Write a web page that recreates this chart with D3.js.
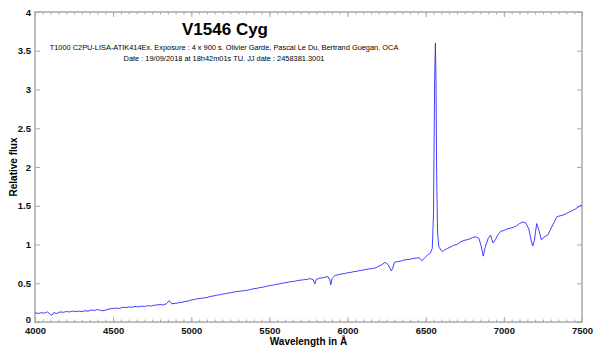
<!DOCTYPE html>
<html>
<head>
<meta charset="utf-8">
<script src="https://cdn.jsdelivr.net/npm/d3@7"></script>
<style>
  body { margin: 0; background: #fff; }
  svg text { font-family: "Liberation Sans", Arial, Helvetica, sans-serif; }
</style>
</head>
<body>
<svg id="container"></svg>
<script>
// spectrum (wavelength in A, relative flux)
const wavelength = [
  4000, 4020, 4040, 4060, 4080, 4100, 4110, 4120, 4140, 4160, 4180, 4200, 4220, 4240, 4260, 4280,
  4300, 4320, 4340, 4360, 4380, 4400, 4420, 4440, 4460, 4480, 4500, 4520, 4540, 4560, 4580, 4600,
  4620, 4640, 4660, 4680, 4700, 4720, 4740, 4760, 4780, 4800, 4820, 4840, 4860, 4875, 4900, 4920,
  4940, 4960, 4980, 5000, 5020, 5040, 5060, 5080, 5100, 5120, 5140, 5160, 5180, 5200, 5220, 5240,
  5260, 5280, 5300, 5320, 5340, 5360, 5380, 5400, 5420, 5440, 5460, 5480, 5500, 5520, 5540, 5560,
  5580, 5600, 5620, 5640, 5660, 5680, 5700, 5720, 5740, 5760, 5780, 5790, 5800, 5820, 5840, 5860,
  5875, 5885, 5893, 5900, 5920, 5940, 5960, 5980, 6000, 6020, 6040, 6060, 6080, 6100, 6120, 6140,
  6160, 6180, 6200, 6220, 6240, 6260, 6280, 6290, 6300, 6320, 6340, 6360, 6380, 6400, 6420, 6440,
  6460, 6475, 6490, 6510, 6530, 6542, 6550, 6557, 6562, 6566, 6570, 6576, 6584, 6600, 6610, 6620,
  6640, 6660, 6680, 6700, 6720, 6740, 6760, 6780, 6800, 6820, 6840, 6855, 6868, 6880, 6900, 6915,
  6930, 6945, 6960, 6980, 7000, 7020, 7040, 7060, 7080, 7100, 7120, 7140, 7160, 7175, 7185, 7195,
  7210, 7225, 7240, 7260, 7280, 7300, 7320, 7340, 7360, 7380, 7400, 7420, 7440, 7460, 7480, 7500
];
const flux = [
  0.12, 0.11, 0.12, 0.115, 0.13, 0.095, 0.09, 0.12, 0.11, 0.13, 0.125, 0.135, 0.13, 0.14, 0.135, 0.14,
  0.135, 0.145, 0.14, 0.155, 0.15, 0.16, 0.15, 0.145, 0.16, 0.17, 0.175, 0.18, 0.175, 0.19, 0.185, 0.195,
  0.19, 0.2, 0.195, 0.205, 0.2, 0.21, 0.205, 0.215, 0.22, 0.225, 0.22, 0.235, 0.275, 0.235, 0.24, 0.25,
  0.255, 0.265, 0.27, 0.285, 0.29, 0.3, 0.305, 0.31, 0.315, 0.33, 0.335, 0.345, 0.35, 0.36, 0.365, 0.375,
  0.38, 0.39, 0.395, 0.4, 0.405, 0.41, 0.42, 0.43, 0.435, 0.445, 0.45, 0.46, 0.47, 0.475, 0.485, 0.49,
  0.5, 0.505, 0.515, 0.52, 0.525, 0.535, 0.54, 0.545, 0.55, 0.56, 0.545, 0.49, 0.55, 0.565, 0.57, 0.58,
  0.585, 0.55, 0.48, 0.56, 0.6, 0.61, 0.62, 0.625, 0.635, 0.64, 0.65, 0.655, 0.665, 0.67, 0.68, 0.685,
  0.69, 0.7, 0.72, 0.74, 0.77, 0.74, 0.66, 0.7, 0.77, 0.78, 0.785, 0.8, 0.805, 0.81, 0.82, 0.825,
  0.83, 0.79, 0.82, 0.86, 0.89, 0.95, 1.4, 3.1, 3.6, 3.1, 1.9, 1.15, 0.97, 0.92, 0.91, 0.93,
  0.95, 0.97, 0.99, 1.0, 1.03, 1.05, 1.06, 1.07, 1.09, 1.1, 1.08, 0.98, 0.85, 0.96, 1.08, 1.12,
  1.02, 1.06, 1.12, 1.17, 1.18, 1.2, 1.21, 1.22, 1.24, 1.27, 1.29, 1.28, 1.2, 1.05, 0.98, 1.05,
  1.27, 1.18, 1.06, 1.1, 1.12, 1.2, 1.28, 1.36, 1.37, 1.38, 1.4, 1.42, 1.44, 1.46, 1.49, 1.51
];

const xTicks = [4000, 4500, 5000, 5500, 6000, 6500, 7000, 7500];
const yTicks = [0, 0.5, 1, 1.5, 2, 2.5, 3, 3.5, 4];
const yTickLabels = ["0", "0.5", "1", "1.5", "2", "2.5", "3", "3.5", "4"];

const title = "V1546 Cyg";
const subtitle = [
  "T1000 C2PU-LISA-ATIK414Ex. Exposure : 4 x 900 s. Olivier Garde, Pascal Le Du, Bertrand Guegan. OCA",
  "Date : 19/09/2018 at 18h42m01s TU. JJ date : 2458381.3001"
];

const W = 600, H = 354;
const margin = {top: 12, right: 18, bottom: 32, left: 35},
  w = W - margin.left - margin.right,
  h = H - margin.top - margin.bottom;

const svg = d3.select("#container")
  .attr("width", W)
  .attr("height", H);

const g = svg.append("g")
  .attr("transform", "translate(" + margin.left + "," + margin.top + ")");

const xScale = d3.scaleLinear().domain([4000, 7500]).range([0, w]);
const yScale = d3.scaleLinear().domain([0, 4]).range([h, 0]);

const minorX = d3.range(4000, 7501, 50);
const frameColor = "#a8a8a8";

// bottom axis: ticks inward
g.append("g")
  .attr("transform", "translate(0," + h + ")")
  .call(d3.axisBottom(xScale).tickValues(minorX).tickSize(-2.5).tickFormat(""))
  .call(a => a.select(".domain").remove())
  .call(a => a.selectAll("line").attr("stroke", frameColor));
g.append("g")
  .attr("transform", "translate(0," + h + ")")
  .call(d3.axisBottom(xScale).tickValues(xTicks).tickSize(-5).tickPadding(5).tickFormat(d3.format("d")))
  .call(a => a.select(".domain").remove())
  .call(a => a.selectAll("line").attr("stroke", frameColor))
  .call(a => a.selectAll("text").attr("font-size", "9.5px").attr("font-weight", "bold").attr("fill", "#111").attr("font-family", "Liberation Sans, Arial"));

// top axis
g.append("g")
  .call(d3.axisTop(xScale).tickValues(minorX).tickSize(-2.5).tickFormat(""))
  .call(a => a.select(".domain").remove())
  .call(a => a.selectAll("line").attr("stroke", frameColor));
g.append("g")
  .call(d3.axisTop(xScale).tickValues(xTicks).tickSize(-5).tickFormat(""))
  .call(a => a.select(".domain").remove())
  .call(a => a.selectAll("line").attr("stroke", frameColor));

// left axis
g.append("g")
  .call(d3.axisLeft(yScale).tickValues(yTicks).tickSize(-5).tickPadding(4)
    .tickFormat((d, i) => yTickLabels[i]))
  .call(a => a.select(".domain").remove())
  .call(a => a.selectAll("line").attr("stroke", frameColor))
  .call(a => a.selectAll("text").attr("font-size", "9.5px").attr("font-weight", "bold").attr("fill", "#111").attr("font-family", "Liberation Sans, Arial"))
  .call(a => a.selectAll("text").filter(d => d === 0).attr("dy", "0em"));

// right axis
g.append("g")
  .attr("transform", "translate(" + w + ",0)")
  .call(d3.axisRight(yScale).tickValues(yTicks).tickSize(-5).tickFormat(""))
  .call(a => a.select(".domain").remove())
  .call(a => a.selectAll("line").attr("stroke", frameColor));

// frame
g.append("rect")
  .attr("width", w)
  .attr("height", h)
  .attr("fill", "none")
  .attr("stroke", frameColor)
  .attr("stroke-width", 1.5);

// spectrum
const line = d3.line()
  .x((d, i) => xScale(wavelength[i]))
  .y(d => yScale(d));

g.append("path")
  .datum(flux)
  .attr("d", line)
  .attr("fill", "none")
  .attr("stroke", "#2b2bff")
  .attr("stroke-width", 0.9)
  .attr("stroke-linejoin", "round");

// titles
svg.append("text")
  .attr("x", 225)
  .attr("y", 35)
  .attr("text-anchor", "middle")
  .attr("font-size", "17px")
  .attr("font-weight", "bold")
  .text(title);

svg.selectAll(".sub")
  .data(subtitle)
  .enter()
  .append("text")
  .attr("class", "sub")
  .attr("x", 224)
  .attr("y", (d, i) => 50 + i * 11)
  .attr("text-anchor", "middle")
  .attr("font-size", "7.4px")
  .attr("fill", "#000")
  .text(d => d);

svg.append("text")
  .attr("x", margin.left + w / 2)
  .attr("y", 345)
  .attr("text-anchor", "middle")
  .attr("font-size", "10px")
  .attr("font-weight", "bold")
  .text("Wavelength in Å");

svg.append("text")
  .attr("transform", "translate(17," + (margin.top + h / 2) + ") rotate(-90)")
  .attr("text-anchor", "middle")
  .attr("font-size", "10px")
  .attr("font-weight", "bold")
  .text("Relative flux");
</script>
</body>
</html>
